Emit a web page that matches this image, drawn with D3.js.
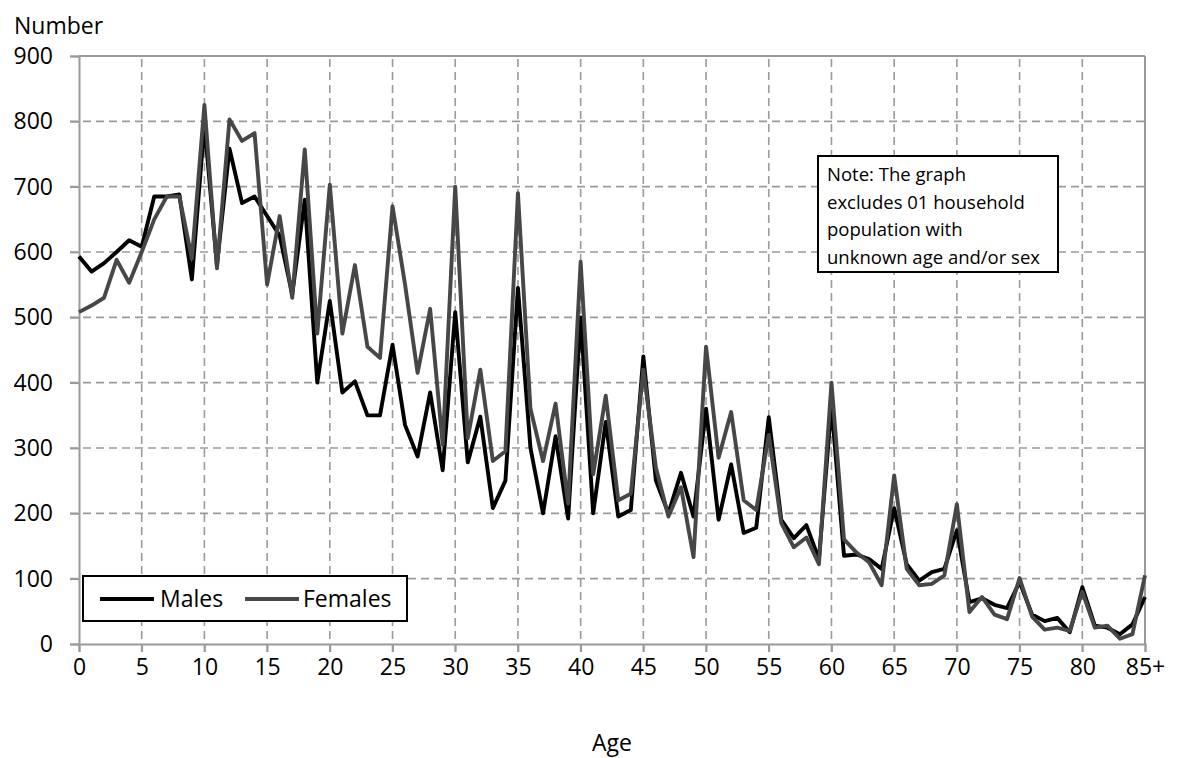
<!DOCTYPE html>
<html><head><meta charset="utf-8">
<script src="https://cdn.jsdelivr.net/npm/d3@7"></script>
<style>body{margin:0;background:#fff}svg{display:block}text{font-family:"Open Sans",sans-serif;fill:#000}</style>
</head><body><svg id="c" width="1183" height="758"></svg>
<script>
const ages = d3.range(0, 86);
const xTickValues = [0,5,10,15,20,25,30,35,40,45,50,55,60,65,70,75,80,85];
const xTickLabels = ["0","5","10","15","20","25","30","35","40","45","50","55","60","65","70","75","80","85+"];
const yTickValues = [0,100,200,300,400,500,600,700,800,900];
const males = [593,570,583,600,618,608,685,685,688,558,
  795,580,758,675,685,655,625,535,680,400,
  525,385,402,350,350,458,335,287,385,266,
  508,278,348,208,250,545,300,200,318,192,
  500,200,340,195,205,440,250,200,262,195,
  360,190,275,170,178,347,190,162,182,130,
  365,135,137,130,115,208,122,97,110,115,
  174,64,70,60,55,95,45,35,40,18,
  87,28,25,15,30,72];
const females = [508,518,530,588,553,600,650,685,685,590,
  825,575,803,770,782,550,655,530,757,475,
  703,475,580,455,438,670,550,415,513,305,
  700,315,420,280,295,690,360,280,368,215,
  585,260,380,220,230,420,270,195,240,133,
  455,285,355,220,205,320,185,148,163,122,
  400,160,140,125,90,258,115,90,92,105,
  214,49,72,45,38,101,42,22,25,20,
  80,25,28,8,15,105];
const seriesNames = ["Males","Females"];

const svg = d3.select("#c");
const x = d3.scaleLinear().domain([0,85]).range([79,1145]);
const y = d3.scaleLinear().domain([0,900]).range([644,56]);
const gridColor = "#9a9a9a";

// gridlines
svg.append("g").selectAll("line").data(yTickValues.filter(v=>v>0&&v<900)).join("line")
  .attr("x1", x(0)-9).attr("x2", x(85)).attr("y1", d=>y(d)).attr("y2", d=>y(d))
  .attr("stroke", gridColor).attr("stroke-width",1.6).attr("stroke-dasharray","8,5");
svg.append("g").selectAll("line").data(xTickValues.filter(v=>v>0&&v<85)).join("line")
  .attr("y1", y(0)+8).attr("y2", y(900)).attr("x1", d=>x(d)).attr("x2", d=>x(d))
  .attr("stroke", gridColor).attr("stroke-width",1.6).attr("stroke-dasharray","8,5");

// axes
const yAxis = svg.append("g").attr("transform",`translate(${x(0)},0)`)
  .call(d3.axisLeft(y).tickValues(yTickValues).tickSize(9).tickFormat(d3.format("d")));
const xAxis = svg.append("g").attr("transform",`translate(0,${y(0)})`)
  .call(d3.axisBottom(x).tickValues(xTickValues).tickSize(8).tickFormat((d,i)=>xTickLabels[i]));
[yAxis,xAxis].forEach(a=>{
  a.select(".domain").attr("stroke",gridColor).attr("stroke-width",2);
  a.selectAll(".tick line").attr("stroke",gridColor).attr("stroke-width",1.8);
  a.selectAll("text").style("font-size","23px").attr("fill","#000");
});
yAxis.selectAll("text").attr("x",-26);
xAxis.selectAll("text").attr("y",15);
// top and right border
svg.append("line").attr("x1",x(0)).attr("x2",x(85)).attr("y1",y(900)).attr("y2",y(900)).attr("stroke",gridColor).attr("stroke-width",2);
svg.append("line").attr("x1",x(85)).attr("x2",x(85)).attr("y1",y(900)).attr("y2",y(0)).attr("stroke",gridColor).attr("stroke-width",2);

// lines
const line = d3.line().x((d,i)=>x(ages[i])).y(d=>y(d));
const colors = ["#000000","#474747"];
[males,females].forEach((s,k)=>{
  svg.append("path").datum(s).attr("d",line).attr("fill","none")
    .attr("stroke",colors[k]).attr("stroke-width",3.9).attr("stroke-linejoin","round");
});

// axis titles
svg.append("text").attr("x",14).attr("y",34).style("font-size","23px").text("Number");
svg.append("text").attr("x",612).attr("y",751).attr("text-anchor","middle").style("font-size","23px").text("Age");

// legend
const lg = svg.append("g");
lg.append("rect").attr("x",83).attr("y",576).attr("width",324).attr("height",45)
  .attr("fill","#fff").attr("stroke","#000").attr("stroke-width",2);
const legPos = [{lx:100, tx:160},{lx:245, tx:303}];
seriesNames.forEach((n,k)=>{
  lg.append("line").attr("x1",legPos[k].lx).attr("x2",legPos[k].lx+54).attr("y1",599).attr("y2",599)
    .attr("stroke",colors[k]).attr("stroke-width",3.9);
  lg.append("text").attr("x",legPos[k].tx).attr("y",607).style("font-size","23px").text(n);
});

// note
const note = ["Note: The graph","excludes 01 household","population with","unknown age and/or sex"];
svg.append("rect").attr("x",818).attr("y",156).attr("width",240).attr("height",116)
  .attr("fill","#fff").attr("stroke","#000").attr("stroke-width",2);
svg.append("g").selectAll("text").data(note).join("text")
  .attr("x",827).attr("y",(d,i)=>181+i*27.5).style("font-size","18.5px").text(d=>d);
</script></body></html>
